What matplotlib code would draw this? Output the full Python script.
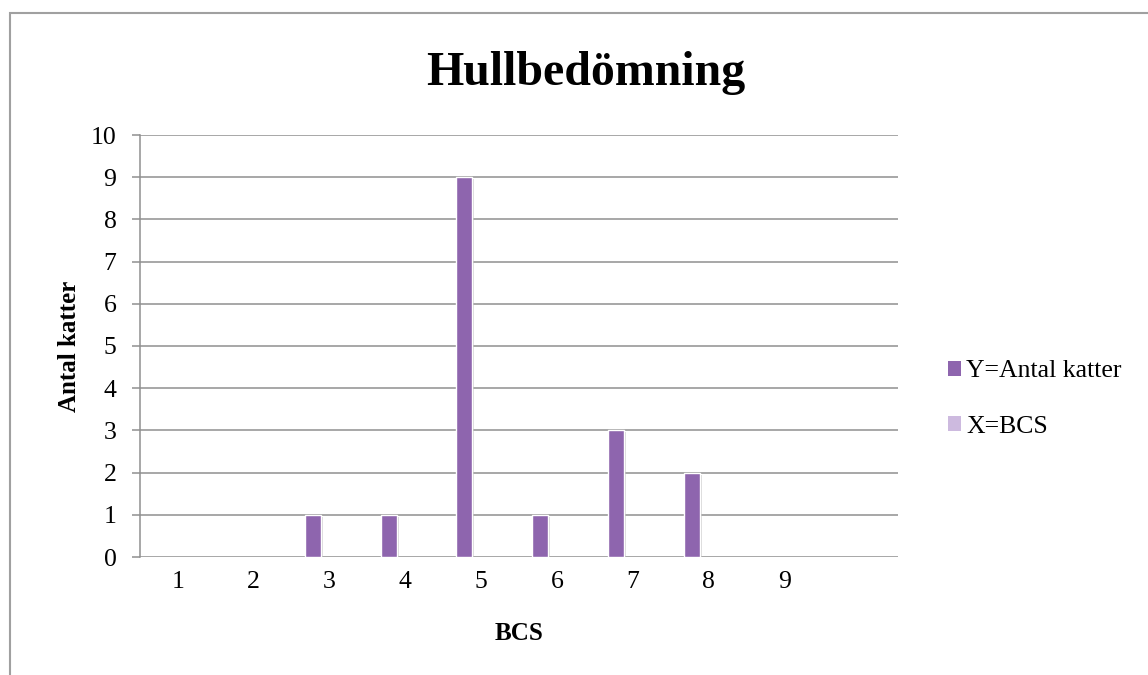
import numpy as np
import matplotlib
matplotlib.use('Agg')
import matplotlib.pyplot as plt
from matplotlib.patches import Rectangle, Patch
import matplotlib.patheffects as pe

# Data
categories = ['1', '2', '3', '4', '5', '6', '7', '8', '9', '']
antal_katter = [0, 0, 1, 1, 9, 1, 3, 2, 0, 0]
bcs_series = [0, 0, 0, 0, 0, 0, 0, 0, 0, 0]

plt.rcParams['font.family'] = ['Liberation Serif', 'DejaVu Serif']

fig = plt.figure(figsize=(11.48, 6.75), dpi=100)
ax = fig.add_axes([140/1148, 1 - 557/675, 758/1148, 422/675])

# Outer chart frame (cut off at right and bottom like the reference)
fig.patches.append(Rectangle((10/1148, -0.1), 1.2, 1 - 13/675 + 0.1,
                             transform=fig.transFigure, fill=False,
                             edgecolor='#a0a0a0', linewidth=1.5))

x = np.arange(len(categories))
bw = 0.21
shadow = [pe.SimplePatchShadow(offset=(1.5, -1.5), shadow_rgbFace='#b0b0b0', alpha=0.5), pe.Normal()]
bars = ax.bar(x - 0.22, antal_katter, width=bw, color='#8e65ae',
              edgecolor='white', linewidth=1.0, zorder=3)
for b in bars:
    if b.get_height() > 0:
        b.set_path_effects(shadow)
    else:
        b.set_linewidth(0)
ax.bar(x, bcs_series, width=bw, color='#cdbadf', linewidth=0, zorder=3)

ax.set_xlim(-0.5, len(categories) - 0.5)
ax.set_ylim(0, 10)
ax.set_yticks(range(0, 11))
ax.set_xticks(x)
ax.set_xticklabels(categories)

ax.yaxis.grid(True, color='#8f8f8f', linewidth=1.1, zorder=0)
ax.set_axisbelow(True)
for s in ['top', 'right', 'bottom']:
    ax.spines[s].set_visible(False)
ax.spines['left'].set_color('#8f8f8f')
ax.spines['left'].set_linewidth(1.1)

ax.tick_params(axis='y', length=6, width=1.1, color='#8f8f8f', pad=11, labelsize=18.5)
ax.tick_params(axis='x', length=0, pad=10, labelsize=18.5)

ax.set_xlabel('BCS', fontsize=18, fontweight='bold', labelpad=21)
ax.set_ylabel('Antal katter', fontsize=18, fontweight='bold', labelpad=7)

fig.text(586/1148, 1 - 73/675, 'Hullbedömning', ha='center', va='center',
         fontsize=34.5, fontweight='bold')

handles = [Patch(facecolor='#8e65ae', edgecolor='none'),
           Patch(facecolor='#cdbadf', edgecolor='none')]
fig.legend(handles, ['Y=Antal katter', 'X=BCS'], loc='center left',
           bbox_to_anchor=(938/1148, 1 - 399/675), frameon=False,
           fontsize=18.5, handlelength=0.5, handleheight=0.5,
           handletextpad=0.2, labelspacing=1.3, borderaxespad=0)

fig.savefig('out.png', dpi=100)
